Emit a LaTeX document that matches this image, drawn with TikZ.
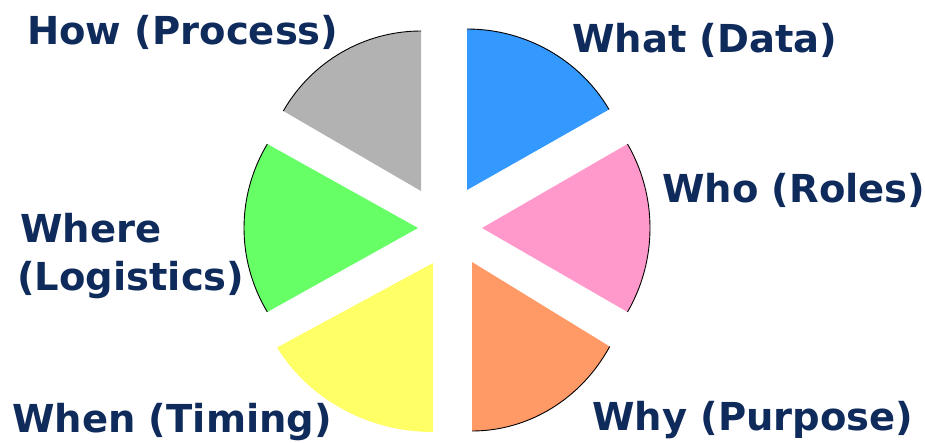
\documentclass[tikz,border=0pt]{standalone}
\usepackage{fontspec}
\setmainfont{DejaVu Sans}
\definecolor{navy}{HTML}{0F2B5B}
\definecolor{cblue}{HTML}{3399FF}
\definecolor{cpink}{HTML}{FF99CC}
\definecolor{corange}{HTML}{FF9966}
\definecolor{cyellow}{HTML}{FFFF66}
\definecolor{cgreen}{HTML}{66FF66}
\definecolor{cgray}{HTML}{B2B2B2}
\begin{document}
\begin{tikzpicture}[x=1pt,y=1pt,
  lbl/.style={font=\fontsize{38.5}{44}\selectfont\bfseries, text=navy, inner sep=0pt, anchor=base west},
  rim/.style={draw=black, line width=0.9pt}]
\useasboundingbox (0,0) rectangle (925,442);
% wedges: center, x radius, y radius, start, end
\foreach \cx/\cy/\rx/\ry/\a/\b/\c/\rimon in {
  467/252/164/161/30/90/cblue/1,
  482/214/168/168/-30/30/cpink/1,
  472/180/159/169/-90/-30/corange/1,
  433/179/180/169/210/270/cyellow/0,
  418/214/174/168/150/210/cgreen/1,
  421/251/159/160/90/150/cgray/1}{
  \fill[\c] (\cx,\cy) -- ++({\rx*cos(\a)},{\ry*sin(\a)}) arc[start angle=\a, end angle=\b, x radius=\rx, y radius=\ry] -- cycle;
  \ifnum\rimon=1
    \draw[rim] ([shift={({\rx*cos(\a)},{\ry*sin(\a)})}]\cx,\cy) arc[start angle=\a, end angle=\b, x radius=\rx, y radius=\ry];
  \fi
}
\node[lbl] (how) at (27,397) {How (Process)};
\node[lbl] (what) at (572,389) {What (Data)};
\node[lbl] (who) at (662,239) {Who (Roles)};
\node[lbl] (where) at (20,200) {Where};
\node[lbl] (logi) at (17,152) {(Logistics)};
\node[lbl] (when) at (12,10) {When (Timing)};
\node[lbl] (why) at (592,12) {Why (Purpose)};
\end{tikzpicture}
\end{document}
